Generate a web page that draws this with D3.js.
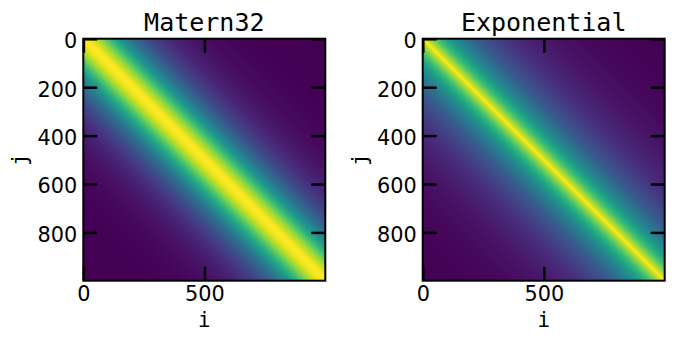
<!DOCTYPE html>
<html>
<head>
<meta charset="utf-8">
<script src="https://cdn.jsdelivr.net/npm/d3@7"></script>
<style>
  body { margin: 0; background: #fff; }
  .tick text { font-family: "DejaVu Sans", sans-serif; font-size: 20.8px; fill: #000; }
  .mono { font-family: "DejaVu Sans Mono", monospace; fill: #000; }
</style>
</head>
<body>
<svg id="chart" width="675" height="341"></svg>
<script>
// kernel value against |i - j|
var dist = [0, 5, 10, 15, 25, 50, 75, 100, 125, 150, 200, 250, 300, 350, 400, 500, 600, 700, 800, 1000];
var matern32 = [1, 0.999, 0.995, 0.988, 0.969, 0.897, 0.805, 0.705, 0.608, 0.517, 0.363, 0.250, 0.175, 0.118, 0.078, 0.034, 0.013, 0.005, 0.002, 0];
var exponential = [1, 0.970, 0.943, 0.916, 0.862, 0.745, 0.643, 0.556, 0.485, 0.422, 0.322, 0.248, 0.188, 0.143, 0.108, 0.063, 0.036, 0.019, 0.009, 0];

var titles = ['Matern32', 'Exponential'];
var profiles = [matern32, exponential];
var xTicks = [0, 500];
var yTicks = [0, 200, 400, 600, 800];
var n = 1000;

var svg = d3.select('#chart');
var size = 242;
var lefts = [83.3, 422.7];
var top0 = 38.7;

// position along the anti-diagonal for a given j - i
var off = d3.scaleLinear().domain([-n, n]).range([0, 1]);

titles.forEach(function (title, p) {
    var vals = profiles[p];
    var x = d3.scaleLinear().domain([-0.5, n - 0.5]).range([0, size]);
    var y = d3.scaleLinear().domain([-0.5, n - 0.5]).range([0, size]);
    var color = d3.scaleSequential(d3.interpolateViridis).domain(d3.extent(vals));

    var g = svg.append('g').attr('transform', 'translate(' + lefts[p] + ',' + top0 + ')');

    var stops = [];
    for (var k = dist.length - 1; k > 0; k--) stops.push({d: -dist[k], v: vals[k]});
    for (var k2 = 0; k2 < dist.length; k2++) stops.push({d: dist[k2], v: vals[k2]});

    var grad = svg.append('defs').append('linearGradient')
        .attr('id', 'grad' + p)
        .attr('gradientUnits', 'userSpaceOnUse')
        .attr('x1', x(n - 0.5)).attr('y1', y(-0.5))
        .attr('x2', x(-0.5)).attr('y2', y(n - 0.5));
    grad.selectAll('stop').data(stops).enter().append('stop')
        .attr('offset', function (s) { return off(s.d); })
        .attr('stop-color', function (s) { return color(s.v); });

    g.append('rect')
        .attr('x', x(-0.5)).attr('y', y(-0.5))
        .attr('width', x(n - 0.5) - x(-0.5))
        .attr('height', y(n - 0.5) - y(-0.5))
        .attr('fill', 'url(#grad' + p + ')');

    var tl = 14;
    var left = g.append('g').call(d3.axisLeft(y).tickValues(yTicks).tickSize(-tl).tickSizeOuter(0).tickPadding(6));
    left.selectAll('text').attr('dy', '0.43em');
    g.append('g').attr('transform', 'translate(0,' + size + ')')
        .call(d3.axisBottom(x).tickValues(xTicks).tickSize(-tl).tickSizeOuter(0).tickPadding(6));
    g.append('g').call(d3.axisTop(x).tickValues(xTicks).tickSize(-tl).tickSizeOuter(0).tickFormat(''));
    g.append('g').attr('transform', 'translate(' + size + ',0)')
        .call(d3.axisRight(y).tickValues(yTicks).tickSize(-tl).tickSizeOuter(0).tickFormat(''));

    g.selectAll('.domain').remove();
    g.selectAll('.tick line').attr('stroke', '#000').attr('stroke-width', 2.5);

    g.append('rect')
        .attr('width', size).attr('height', size)
        .attr('fill', 'none').attr('stroke', '#000').attr('stroke-width', 2);

    g.append('text').attr('class', 'mono')
        .attr('x', size / 2).attr('y', -8.2)
        .attr('text-anchor', 'middle').style('font-size', '25px')
        .text(title);
    g.append('text').attr('class', 'mono')
        .attr('x', size / 2).attr('y', 288)
        .attr('text-anchor', 'middle').style('font-size', '20.8px')
        .text('i');
    g.append('text').attr('class', 'mono')
        .attr('transform', 'translate(-56,' + (size / 2) + ') rotate(-90)')
        .attr('text-anchor', 'middle').style('font-size', '20.8px')
        .text('j');
});
</script>
</body>
</html>
